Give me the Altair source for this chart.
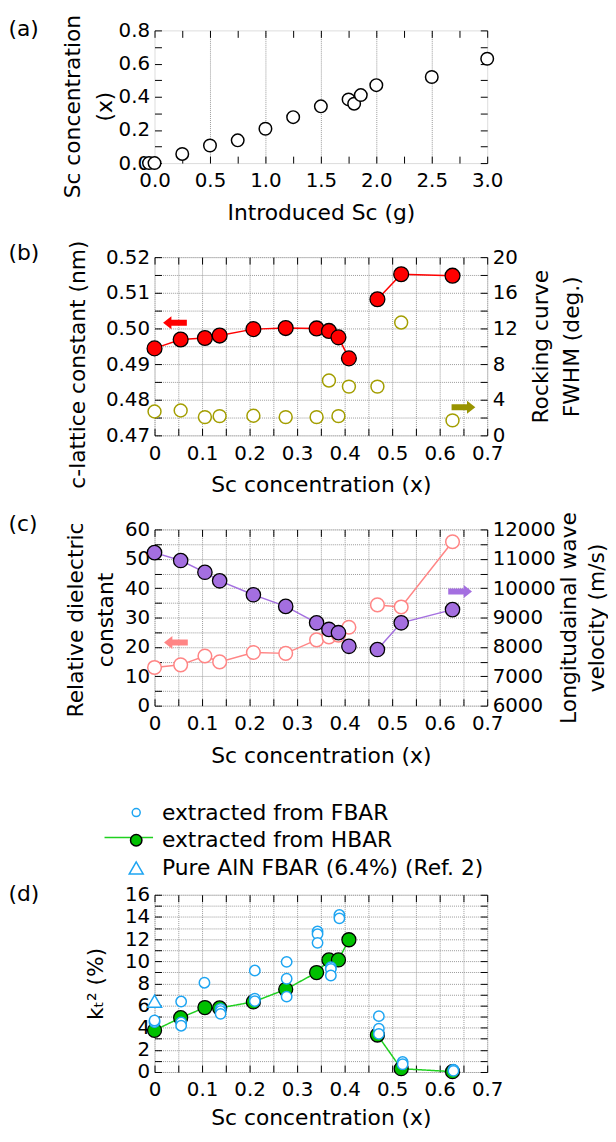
import altair as alt
import pandas as pd

FONT = "DejaVu Sans"
INK = "#000000"
GRID = "#9a9a9a"
RED = "#ff0000"
OLIVE = "#a39e00"
PINK = "#ff8585"
PURPLE = "#a46fe0"
GREEN = "#00c000"
GREEN_LINE = "#1fd01f"
BLUE = "#1ea5f2"

# ---------------- data ----------------
# (a) introduced Sc (g) vs measured Sc concentration x
introduced_sc = [-0.05, 0.0, 0.25, 0.5, 0.75, 1.0, 1.25, 1.5, 1.75, 1.80, 1.86, 2.0, 2.5, 3.0]
sc_conc_a = [0.0, 0.0, 0.055, 0.106, 0.137, 0.207, 0.277, 0.342, 0.384, 0.358, 0.41, 0.47, 0.519, 0.629]

# films used in (b)-(d)
sc_x = [0.0, 0.055, 0.106, 0.137, 0.208, 0.276, 0.341, 0.367, 0.387, 0.409, 0.469, 0.519, 0.627]
segment = [1, 1, 1, 1, 1, 1, 1, 1, 1, 1, 2, 2, 2]
c_lattice_nm = [0.4944, 0.4969, 0.4973, 0.4980, 0.4998, 0.5001, 0.5000, 0.4993, 0.4975, 0.4916, 0.5082, 0.5152, 0.5148]
rocking_fwhm = [2.68, 2.79, 2.05, 2.16, 2.20, 2.05, 2.05, 6.15, 2.16, 5.47, 5.47, 12.66, 1.68]
dielectric = [13.0, 13.9, 16.9, 14.9, 18.1, 17.8, 22.4, 23.4, 24.0, 26.7, 34.3, 33.6, 55.8]
velocity = [11210, 10940, 10540, 10250, 9775, 9380, 8820, 8595, 8485, 8020, 7910, 8820, 9270]
kt2_hbar = [3.76, 4.90, 5.82, 5.78, 6.33, 7.46, 8.98, 10.12, 10.12, 11.94, 3.34, 0.30, 0.03]

fbar_x = [0.0, 0.0, 0.056, 0.056, 0.056, 0.105, 0.139, 0.139, 0.139, 0.211, 0.211, 0.211,
          0.278, 0.278, 0.278, 0.343, 0.343, 0.343, 0.371, 0.371, 0.371, 0.389, 0.389,
          0.472, 0.472, 0.472, 0.522, 0.522, 0.629, 0.629]
fbar_kt2 = [4.50, 4.65, 6.36, 4.48, 4.18, 8.06, 5.70, 5.50, 5.25, 9.16, 6.62, 6.40,
            9.94, 8.42, 6.80, 12.68, 12.45, 11.66, 9.46, 9.30, 8.71, 14.17, 13.87,
            5.04, 3.91, 3.44, 0.90, 0.70, 0.20, 0.10]
ref_x = [0.0]
ref_kt2 = [6.4]

legend_labels = ["extracted from FBAR", "extracted from HBAR", "Pure AlN FBAR (6.4%) (Ref. 2)"]

# arrows pointing at the axis each series belongs to: [x, y]
b_arrow_left = [0.043, 0.5016]
b_arrow_right = [0.650, 3.16]
c_arrow_left = [0.045, 21.5]
c_arrow_right = [0.643, 9886]

# ticks / labels
a_x_labels = [0.0, 0.5, 1.0, 1.5, 2.0, 2.5, 3.0]
a_x_ticks = [0.0, 0.25, 0.5, 0.75, 1.0, 1.25, 1.5, 1.75, 2.0, 2.25, 2.5, 2.75, 3.0]
a_x_grid = [0.5, 1.0, 1.5, 2.0, 2.5]
a_y_labels = [0.0, 0.2, 0.4, 0.6, 0.8]
a_y_ticks = [0.0, 0.1, 0.2, 0.3, 0.4, 0.5, 0.6, 0.7, 0.8]
x_labels = [0.0, 0.1, 0.2, 0.3, 0.4, 0.5, 0.6, 0.7]
x_ticks = [0.0, 0.05, 0.1, 0.15, 0.2, 0.25, 0.3, 0.35, 0.4, 0.45, 0.5, 0.55, 0.6, 0.65, 0.7]
b_left_labels = [0.47, 0.48, 0.49, 0.50, 0.51, 0.52]
b_left_ticks = [0.47, 0.475, 0.48, 0.485, 0.49, 0.495, 0.50, 0.505, 0.51, 0.515, 0.52]
b_right_labels = [0, 4, 8, 12, 16, 20]
b_right_ticks = [0, 2, 4, 6, 8, 10, 12, 14, 16, 18, 20]
c_left_labels = [0, 10, 20, 30, 40, 50, 60]
c_left_ticks = [0, 5, 10, 15, 20, 25, 30, 35, 40, 45, 50, 55, 60]
c_right_labels = [6000, 7000, 8000, 9000, 10000, 11000, 12000]
c_right_ticks = [6000, 6500, 7000, 7500, 8000, 8500, 9000, 9500, 10000, 10500, 11000, 11500, 12000]
d_labels = [0, 2, 4, 6, 8, 10, 12, 14, 16]
d_ticks = [0, 1, 2, 3, 4, 5, 6, 7, 8, 9, 10, 11, 12, 13, 14, 15, 16]

# ---------------- layout ----------------
W = 336
HA, HB, HC, HD = 134, 180, 178, 179
LABEL_X = -147.5

ARROW_L = "M -1 0 L -0.3 -0.55 L -0.3 -0.25 L 1 -0.25 L 1 0.25 L -0.3 0.25 L -0.3 0.55 Z"
ARROW_R = "M 1 0 L 0.3 -0.55 L 0.3 -0.25 L -1 -0.25 L -1 0.25 L 0.3 0.25 L 0.3 0.55 Z"


def ax_label(orient, values, fmt, title=None, **extra):
    kw = dict(orient=orient, values=values, format=fmt, ticks=False, tickSize=0,
              domain=False, grid=False, labelFont=FONT, labelFontSize=20,
              labelColor=INK, labelOverlap=False, labelFlush=False,
              labelPadding=8 if orient in ("bottom", "top") else 5,
              titleFont=FONT, titleFontSize=22, titleFontWeight="normal", titleColor=INK)
    kw.update(extra)
    return alt.Axis(title=title, **kw)


def ax_tick(orient, values, offset):
    return alt.Axis(orient=orient, values=values, offset=offset, title=None, labels=False,
                    domain=False, grid=False, ticks=True, tickSize=7, tickColor=INK, tickWidth=1)


def ax_grid(orient, values):
    return alt.Axis(orient=orient, values=values, title=None, labels=False, domain=False,
                    ticks=False, grid=True, gridColor=GRID, gridDash=[1, 1], gridWidth=1)


def frame(df, xf, yf, xs, ys, xaxis, yaxis):
    return alt.Chart(df).mark_point(opacity=0, size=1).encode(
        x=alt.X(xf, type="quantitative", scale=xs, axis=xaxis),
        y=alt.Y(yf, type="quantitative", scale=ys, axis=yaxis))


def panel_label(text, dy):
    return alt.Chart(pd.DataFrame({"t": [text]})).mark_text(
        align="left", baseline="alphabetic", font=FONT, fontSize=22, color=INK
    ).encode(text="t:N", x=alt.value(LABEL_X), y=alt.value(dy))


def xy(df, xf, yf, xs, ys):
    return dict(x=alt.X(xf, type="quantitative", scale=xs, axis=None),
                y=alt.Y(yf, type="quantitative", scale=ys, axis=None))


def arrow(pt, xs, ys, path, color):
    df = pd.DataFrame({"x": [pt[0]], "y": [pt[1]]})
    return alt.Chart(df).mark_point(shape=path, size=576, filled=True, fill=color,
                                    strokeWidth=0, opacity=1).encode(**xy(df, "x", "y", xs, ys))


# ---------------- (a) ----------------
df_a = pd.DataFrame({"g": introduced_sc, "x": sc_conc_a})
xa = alt.Scale(domain=[0, 3], nice=False, zero=False)
ya = alt.Scale(domain=[0, 0.8], nice=False, zero=False)
pts_a = alt.Chart(df_a).mark_point(shape="circle", size=160, fill="white", stroke=INK,
                                   strokeWidth=1.5, opacity=1).encode(**xy(df_a, "g", "x", xa, ya))
panel_a = alt.layer(
    frame(df_a, "g", "x", xa, ya, ax_grid("bottom", a_x_grid), None),
    frame(df_a, "g", "x", xa, ya,
          ax_label("bottom", a_x_labels, ".1f", "Introduced Sc (g)", titlePadding=12),
          ax_label("left", a_y_labels, ".1f", ["Sc concentration", "(x)"], titleX=-71,
                   titleY=76.5, titleAlign="center", titleLineHeight=33)),
    frame(df_a, "g", "x", xa, ya, ax_tick("top", a_x_ticks, -HA), ax_tick("right", a_y_ticks, -W)),
    frame(df_a, "g", "x", xa, ya, ax_tick("bottom", a_x_ticks, -HA), ax_tick("left", a_y_ticks, -W)),
    pts_a,
    panel_label("(a)", 6),
).resolve_axis(x="independent", y="independent").properties(width=W, height=HA)

# ---------------- (b) ----------------
df_f = pd.DataFrame({"x": sc_x, "c": c_lattice_nm, "w": rocking_fwhm, "e": dielectric,
                     "v": velocity, "k": kt2_hbar, "seg": segment})
xs = alt.Scale(domain=[0, 0.7], nice=False, zero=False)
yb_l = alt.Scale(domain=[0.47, 0.52], nice=False, zero=False)
yb_r = alt.Scale(domain=[0, 20], nice=False, zero=False)

panel_b = alt.layer(
    frame(df_f, "x", "c", xs, yb_l, ax_grid("bottom", x_ticks), ax_grid("left", b_left_ticks)),
    frame(df_f, "x", "c", xs, yb_l,
          ax_label("bottom", x_labels, "~g", "Sc concentration (x)", titlePadding=12),
          ax_label("left", b_left_labels, ".2f", "c-lattice constant (nm)", titleX=-66,
                   titleY=108, titleAlign="center")),
    frame(df_f, "x", "c", xs, yb_l, ax_tick("top", x_ticks, -HB), ax_tick("right", b_left_ticks, -W)),
    frame(df_f, "x", "w", xs, yb_r, ax_tick("bottom", x_ticks, -HB), ax_tick("left", b_right_ticks, -W)),
    frame(df_f, "x", "w", xs, yb_r, None,
          ax_label("right", b_right_labels, "d", ["Rocking curve", "FWHM (deg.)"],
                   titleAngle=270, titleBaseline="top", titleX=44, titleY=HB / 2,
                   titleAlign="center", titleLineHeight=31)),
    alt.Chart(df_f).mark_line(color=RED, strokeWidth=1.5).encode(
        detail="seg:N", **xy(df_f, "x", "c", xs, yb_l)),
    alt.Chart(df_f).mark_point(shape="circle", size=170, fill="white", stroke=OLIVE,
                               strokeWidth=1.5, opacity=1).encode(**xy(df_f, "x", "w", xs, yb_r)),
    alt.Chart(df_f).mark_point(shape="circle", size=225, fill=RED, stroke=INK,
                               strokeWidth=1.3, opacity=1).encode(**xy(df_f, "x", "c", xs, yb_l)),
    arrow(b_arrow_left, xs, yb_l, ARROW_L, RED),
    arrow(b_arrow_right, xs, yb_r, ARROW_R, "#999400"),
    panel_label("(b)", 3),
).resolve_scale(y="independent").resolve_axis(x="independent", y="independent").properties(
    width=W, height=HB)

# ---------------- (c) ----------------
yc_l = alt.Scale(domain=[0, 60], nice=False, zero=False)
yc_r = alt.Scale(domain=[6000, 12000], nice=False, zero=False)

panel_c = alt.layer(
    frame(df_f, "x", "e", xs, yc_l, ax_grid("bottom", x_ticks), ax_grid("left", c_left_ticks)),
    frame(df_f, "x", "e", xs, yc_l,
          ax_label("bottom", x_labels, "~g", "Sc concentration (x)", titlePadding=12),
          ax_label("left", c_left_labels, "d", ["Relative dielectric", "constant"], titleX=-68,
                   titleY=91, titleAlign="center", titleLineHeight=31)),
    frame(df_f, "x", "e", xs, yc_l, ax_tick("top", x_ticks, -HC), ax_tick("right", c_left_ticks, -W)),
    frame(df_f, "x", "v", xs, yc_r, ax_tick("bottom", x_ticks, -HC), ax_tick("left", c_right_ticks, -W)),
    frame(df_f, "x", "v", xs, yc_r, None,
          ax_label("right", c_right_labels, "d", ["Longitudainal wave", "velocity (m/s)"],
                   titleAngle=270, titleBaseline="top", titleX=72, titleY=HC / 2,
                   titleAlign="center", titleLineHeight=28)),
    alt.Chart(df_f).mark_line(color=PINK, strokeWidth=1.5).encode(
        detail="seg:N", **xy(df_f, "x", "e", xs, yc_l)),
    alt.Chart(df_f).mark_point(shape="circle", size=190, fill="white", stroke=PINK,
                               strokeWidth=1.5, opacity=1).encode(**xy(df_f, "x", "e", xs, yc_l)),
    alt.Chart(df_f).mark_line(color=PURPLE, strokeWidth=1.5).encode(
        detail="seg:N", **xy(df_f, "x", "v", xs, yc_r)),
    alt.Chart(df_f).mark_point(shape="circle", size=210, fill=PURPLE, stroke=INK,
                               strokeWidth=1.3, opacity=1).encode(**xy(df_f, "x", "v", xs, yc_r)),
    arrow(c_arrow_left, xs, yc_l, ARROW_L, PINK),
    arrow(c_arrow_right, xs, yc_r, ARROW_R, PURPLE),
    panel_label("(c)", 2),
).resolve_scale(y="independent").resolve_axis(x="independent", y="independent").properties(
    width=W, height=HC)

# ---------------- (d) ----------------
yd = alt.Scale(domain=[0, 16], nice=False, zero=False)
df_hb = pd.DataFrame({"x": sc_x, "k": kt2_hbar, "seg": segment, "series": legend_labels[1]})
df_fb = pd.DataFrame({"x": fbar_x, "k": fbar_kt2, "series": legend_labels[0]})
df_rf = pd.DataFrame({"x": ref_x, "k": ref_kt2, "series": legend_labels[2]})

leg = dict(orient="none", legendX=-29.5, legendY=-94, title=None, labelFont=FONT,
           labelFontSize=22, labelColor=INK, labelOffset=15, rowPadding=6, padding=0,
           symbolStrokeWidth=1.5, labelLimit=400)
fill_enc = alt.Fill("series:N", scale=alt.Scale(domain=legend_labels, range=["white", GREEN, "white"]),
                    legend=alt.Legend(**leg))
stroke_enc = alt.Stroke("series:N", scale=alt.Scale(domain=legend_labels, range=[BLUE, INK, BLUE]),
                        legend=alt.Legend(**leg))
shape_enc = alt.Shape("series:N", scale=alt.Scale(domain=legend_labels,
                                                  range=["circle", "circle", "triangle-up"]),
                      legend=alt.Legend(**leg))
size_enc = alt.Size("series:N", scale=alt.Scale(domain=legend_labels, range=[65, 200, 200]),
                    legend=alt.Legend(**leg))
dash_enc = alt.StrokeDash("series:N", scale=alt.Scale(domain=[legend_labels[1]], range=[[1, 0]]),
                          legend=alt.Legend(orient="none", legendX=-51.5, legendY=-83.4, title=None,
                                            symbolType="stroke", symbolSize=2401,
                                            symbolStrokeWidth=1.5, symbolStrokeColor=GREEN_LINE,
                                            labelExpr="''", labelFontSize=22, padding=0))

panel_d = alt.layer(
    frame(df_hb, "x", "k", xs, yd, ax_grid("bottom", x_ticks), ax_grid("left", d_ticks)),
    frame(df_hb, "x", "k", xs, yd,
          ax_label("bottom", x_labels, "~g", "Sc concentration (x)", titlePadding=8),
          ax_label("left", d_labels, "d", "kₜ² (%)", titleX=-48, titleY=HD / 2, titleAlign="center")),
    frame(df_hb, "x", "k", xs, yd, ax_tick("top", x_ticks, -HD), ax_tick("right", d_ticks, -W)),
    frame(df_hb, "x", "k", xs, yd, ax_tick("bottom", x_ticks, -HD), ax_tick("left", d_ticks, -W)),
    alt.Chart(df_hb).mark_line(color=GREEN_LINE, strokeWidth=1.5).encode(
        detail="seg:N", strokeDash=dash_enc, **xy(df_hb, "x", "k", xs, yd)),
    alt.Chart(df_hb).mark_point(shape="circle", size=200, strokeWidth=1.3, opacity=1).encode(
        fill=fill_enc, stroke=stroke_enc, **xy(df_hb, "x", "k", xs, yd)),
    alt.Chart(df_fb).mark_point(size=110, strokeWidth=1.5, opacity=1).encode(
        fill=fill_enc, stroke=stroke_enc, shape=shape_enc, **xy(df_fb, "x", "k", xs, yd)),
    alt.Chart(df_rf).mark_point(strokeWidth=1.5, opacity=1).encode(
        fill=fill_enc, stroke=stroke_enc, shape=shape_enc, size=size_enc,
        **xy(df_rf, "x", "k", xs, yd)),
    panel_label("(d)", 6),
).resolve_axis(x="independent", y="independent").properties(width=W, height=HD)

spacer = alt.Chart(pd.DataFrame({"s": [0]})).mark_point(opacity=0).properties(
    width=W, height=1, view=alt.ViewBackground(strokeOpacity=0))

chart = alt.vconcat(panel_a, panel_b, panel_c, spacer, panel_d, spacing=95, bounds="flush").resolve_legend(
    fill="independent", stroke="independent", shape="independent", size="independent",
    strokeDash="independent"
).properties(padding=0).configure_view(stroke=INK, strokeWidth=1).configure(font=FONT)

chart.save("out.html", embed_options={"renderer": "svg", "actions": False})
